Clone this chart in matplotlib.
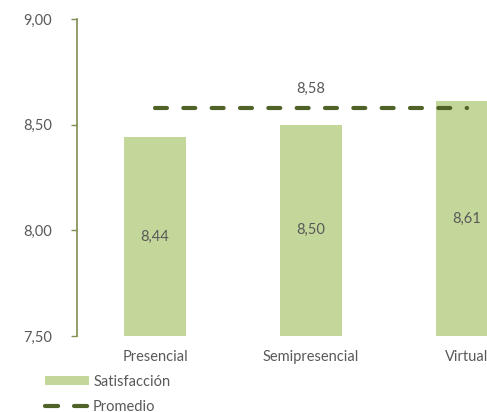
import matplotlib
matplotlib.use("Agg")
import matplotlib.pyplot as plt
from matplotlib.patches import Patch
from matplotlib.lines import Line2D

categories = ["Presencial", "Semipresencial", "Virtual"]
satisfaccion = [8.44, 8.50, 8.61]
promedio = 8.58
yticks = [7.50, 8.00, 8.50, 9.00]

bar_color = "#C4D79B"
line_color = "#4F6228"
axis_color = "#7F8F4F"
text_color = "#595959"

plt.rcParams['font.family'] = ['Lato', 'DejaVu Sans']
plt.rcParams['lines.scale_dashes'] = False

fig = plt.figure(figsize=(4.87, 4.12), dpi=100)
W, H = 487, 412
left, right, top, bottom = 77, 545, 19, 336
ax = fig.add_axes([left / W, (H - bottom) / H, (right - left) / W, (bottom - top) / H])

x = list(range(len(categories)))
ax.bar(x, [v - 7.5 for v in satisfaccion], bottom=7.5, width=0.40, color=bar_color, zorder=2)
for xi, v in zip(x, satisfaccion):
    ax.text(xi, (7.5 + v) / 2, f"{v:.2f}".replace(".", ","), ha="center", va="center",
            fontsize=10.5, color=text_color, zorder=3)

ax.plot([x[0], x[-1]], [promedio, promedio], color=line_color, lw=3,
        dashes=(8.6, 11.8), dash_capstyle="round", zorder=4)
ax.text(1, promedio + 0.09, f"{promedio:.2f}".replace(".", ","), ha="center", va="center",
        fontsize=10.5, color=text_color)

ax.set_xlim(-0.5, 2.5)
ax.set_ylim(7.5, 9.0)
ax.set_yticks(yticks)
ax.set_yticklabels([f"{t:.2f}".replace(".", ",") for t in yticks], fontsize=10.5, color=text_color)
ax.set_xticks(x)
ax.set_xticklabels(categories, fontsize=10.5, color=text_color)
ax.tick_params(axis="x", length=0, pad=10)
ax.tick_params(axis="y", length=4, width=1, color=axis_color, pad=14)
for s in ["top", "right", "bottom"]:
    ax.spines[s].set_visible(False)
ax.spines["left"].set_color(axis_color)
ax.spines["left"].set_linewidth(1.2)

handles = [Patch(facecolor=bar_color, edgecolor="none"),
           Line2D([0], [0], color=line_color, lw=3, dashes=(9.4, 11.5), dash_capstyle="round")]
fig.legend(handles, ["Satisfacción", "Promedio"], loc="upper left",
           bbox_to_anchor=(45 / W, (H - 375) / H), frameon=False, fontsize=10.5,
           labelcolor=text_color, handlelength=3.0, handleheight=0.55,
           handletextpad=0.3, labelspacing=0.75, borderaxespad=0, borderpad=0)

fig.savefig("out.png", dpi=100)
